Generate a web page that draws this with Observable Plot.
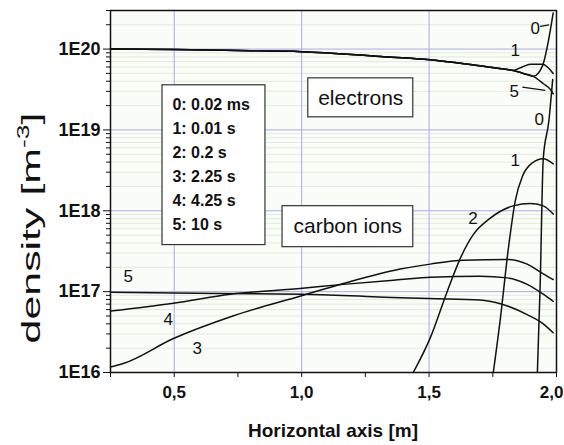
<!DOCTYPE html>
<html><head><meta charset="utf-8">
<script src="https://cdn.jsdelivr.net/npm/d3@7"></script>
<script src="https://cdn.jsdelivr.net/npm/@observablehq/plot@0.6"></script>
<style>body{margin:0;background:#fff} svg{display:block}</style>
</head><body><div id="chart"></div>
<script>
// ---- data ----
const xTicks = [0.25, 0.5, 0.75, 1.0, 1.25, 1.5, 1.75, 2.0];
const xTickLabels = [0.5, 1.0, 1.5, 2.0];
const yDecades = [1e16, 1e17, 1e18, 1e19, 1e20];
const legendLabels = ["0: 0.02 ms", "1: 0.01 s", "2: 0.2 s", "3: 2.25 s", "4: 4.25 s", "5: 10 s"];
const speciesLabels = ["electrons", "carbon ions"];

// electron density [x (m), n (m^-3)]
const electronShared = [[0.25,1.0e20],[0.5,9.9e19],[0.75,9.6e19],[1.0,9.3e19],[1.31,8.1e19],[1.505,7.4e19],[1.70,6.2e19],[1.807,5.6e19],[1.83,5.45e19]];
const electron0Tail = [[1.87,5.0e19],[1.909,4.6e19],[1.945,6.2e19],[1.968,1.25e20],[1.987,2.8e20]];
const electron1Tail = [[1.87,6.1e19],[1.90,6.5e19],[1.945,6.5e19],[1.987,5.0e19]];
const electron5Tail = [[1.87,5.0e19],[1.909,4.6e19],[1.95,3.7e19],[1.975,3.2e19],[1.987,2.8e19]];

// carbon ion density [x (m), n (m^-3)]
const carbon0 = [[1.925,1e16],[1.936,1.23e17],[1.948,4.4e18],[1.97,1.29e19],[1.985,4.2e19]];
const carbon1 = [[1.752,1e16],[1.78,4.7e16],[1.81,3.2e17],[1.838,1.32e18],[1.867,2.7e18],[1.905,3.9e18],[1.948,4.4e18],[1.987,3.8e18]];
const carbon2 = [[1.438,1e16],[1.505,2.7e16],[1.572,1.02e17],[1.623,2.6e17],[1.674,5.1e17],[1.74,8.1e17],[1.83,1.15e18],[1.897,1.23e18],[1.948,1.15e18],[1.987,9.1e17]];
const carbon3 = [[0.25,1.17e16],[0.30,1.29e16],[0.497,2.63e16],[0.73,5.0e16],[1.0,8.9e16],[1.164,1.26e17],[1.387,1.9e17],[1.505,2.19e17],[1.634,2.45e17],[1.807,2.5e17],[1.885,2.19e17],[1.948,1.66e17],[1.987,1.41e17]];
const carbon4 = [[0.25,5.75e16],[0.497,7.2e16],[0.72,9.3e16],[1.003,1.1e17],[1.164,1.23e17],[1.387,1.41e17],[1.505,1.51e17],[1.70,1.55e17],[1.807,1.48e17],[1.885,1.23e17],[1.948,9.3e16],[1.987,7.6e16]];
const carbon5 = [[0.25,9.8e16],[0.5,9.6e16],[1.0,9.3e16],[1.3,8.6e16],[1.5,8.2e16],[1.70,7.9e16],[1.78,7.1e16],[1.885,5.2e16],[1.948,4.0e16],[1.987,3.1e16]];

// ---- build table ----
const rows = [];
function add(name, pts) { pts.forEach(([x, n]) => rows.push({x, n, curve: name})); }
add("e0", electronShared.concat(electron0Tail));
add("e1", electronShared.concat(electron1Tail));
add("e5", electronShared.concat(electron5Tail));
add("c0", carbon0); add("c1", carbon1); add("c2", carbon2);
add("c3", carbon3); add("c4", carbon4); add("c5", carbon5);

const minor = [];
yDecades.forEach(d => { for (let k = 2; k <= 9; k++) if (d * k <= 3e20) minor.push(d * k); });

const p10 = v => Math.pow(10, v);
// annotation placement (data coordinates)
const curveLabelPos = [
  {t: "0", x: 1.917, n: p10(20.26)}, {t: "1", x: 1.838, n: p10(19.98)}, {t: "5", x: 1.834, n: p10(19.47)},
  {t: "0", x: 1.932, n: p10(19.13)}, {t: "1", x: 1.838, n: p10(18.62)}, {t: "2", x: 1.672, n: p10(17.91)},
  {t: "3", x: 0.59, n: p10(16.30)}, {t: "4", x: 0.477, n: p10(16.66)}, {t: "5", x: 0.32, n: p10(17.19)}
];
const leaders = [
  {x1: 1.936, n1: p10(20.28), x2: 1.971, n2: p10(20.30)},
  {x1: 1.866, n1: p10(19.53), x2: 1.956, n2: p10(19.49)}
];
const boxes = [
  {x1: 0.454, x2: 0.858, y1: p10(17.576), y2: p10(19.552)},
  {x1: 1.026, x2: 1.438, y1: p10(19.156), y2: p10(19.638)},
  {x1: 0.925, x2: 1.438, y1: p10(17.55), y2: p10(18.057)}
];
const legendRows = legendLabels.map((t, i) => ({t, x: 0.493, n: p10(19.314 - i * 0.2965)}));
const speciesRows = [
  {t: speciesLabels[0], x: 1.232, n: p10(19.396)},
  {t: speciesLabels[1], x: 1.181, n: p10(17.81)}
];

const FONT = "'Liberation Sans', Arial, Helvetica, sans-serif";
const fmtX = d => d.toFixed(1).replace(".", ",");
const plot = Plot.plot({
  width: 564, height: 445,
  marginLeft: 110, marginRight: 8, marginTop: 10, marginBottom: 73,
  x: {domain: [0.25, 2.0], label: null},
  y: {type: "log", domain: [1e16, 3e20], label: null},
  style: {fontFamily: FONT, background: "#fff", color: "#111", overflow: "visible"},
  marks: [
    Plot.frame({fill: "#f9fcf7", stroke: null}),
    Plot.ruleY(minor.filter(v => v < 2.9e20), {stroke: "#e0ecdb", strokeWidth: 1}),
    Plot.ruleY(yDecades.slice(1), {stroke: "#a9a9ef", strokeWidth: 1}),
    Plot.ruleX(xTickLabels.slice(0, 3), {stroke: "#a9a9ef", strokeWidth: 1}),
    Plot.rect(boxes, {x1: "x1", x2: "x2", y1: "y1", y2: "y2", fill: "#fff", stroke: "#333", strokeWidth: 1.2}),
    Plot.line(rows, {x: "x", y: "n", z: "curve", stroke: "#111", strokeWidth: 1.5, curve: "monotone-x"}),
    Plot.link(leaders, {x1: "x1", y1: "n1", x2: "x2", y2: "n2", stroke: "#111", strokeWidth: 1.2}),
    Plot.text(curveLabelPos, {x: "x", y: "n", text: "t", fontSize: 17, fill: "#111"}),
    Plot.text(legendRows, {x: "x", y: "n", text: "t", textAnchor: "start", fontSize: 16, fontWeight: "bold", fill: "#111"}),
    Plot.text(speciesRows, {x: "x", y: "n", text: "t", fontSize: 21, fill: "#111"}),
    Plot.axisY(minor, {anchor: "left", tickSize: 4, text: null, label: null}),
    Plot.axisY(yDecades, {anchor: "left", tickSize: 7, tickPadding: 3, label: null,
      tickFormat: d => "1E" + Math.round(Math.log10(d)), fontSize: 18, fontWeight: "bold"}),
    Plot.axisX(xTicks, {anchor: "bottom", tickSize: 5, text: null, label: null}),
    Plot.axisX(xTickLabels.slice(0, 3), {anchor: "bottom", tickSize: 0, tickPadding: 13, label: null,
      tickFormat: fmtX, fontSize: 17, fontWeight: "bold"}),
    Plot.axisX(xTickLabels.slice(3), {anchor: "bottom", tickSize: 0, tickPadding: 13, label: null,
      tickFormat: fmtX, fontSize: 17, fontWeight: "bold", textAnchor: "end", dx: 7})
  ].concat([Plot.frame({stroke: "#111", strokeWidth: 1.5})])
});

const svg = d3.select(plot);
svg.append("text")
  .attr("x", 333).attr("y", 437).attr("text-anchor", "middle")
  .attr("font-size", 19).attr("font-weight", "bold").attr("fill", "#111")
  .style("font-family", FONT).text("Horizontal axis [m]");
const yl = svg.append("text")
  .attr("transform", "translate(40,228) rotate(-90) scale(1.65,1)")
  .attr("text-anchor", "middle").attr("font-size", 26).attr("fill", "#111")
  .style("font-family", FONT);
yl.append("tspan").text("density [m");
yl.append("tspan").attr("dy", -11).attr("font-size", 16).text("-3");
yl.append("tspan").attr("dy", 11).text("]");

document.getElementById("chart").appendChild(plot);
</script>
</body></html>
